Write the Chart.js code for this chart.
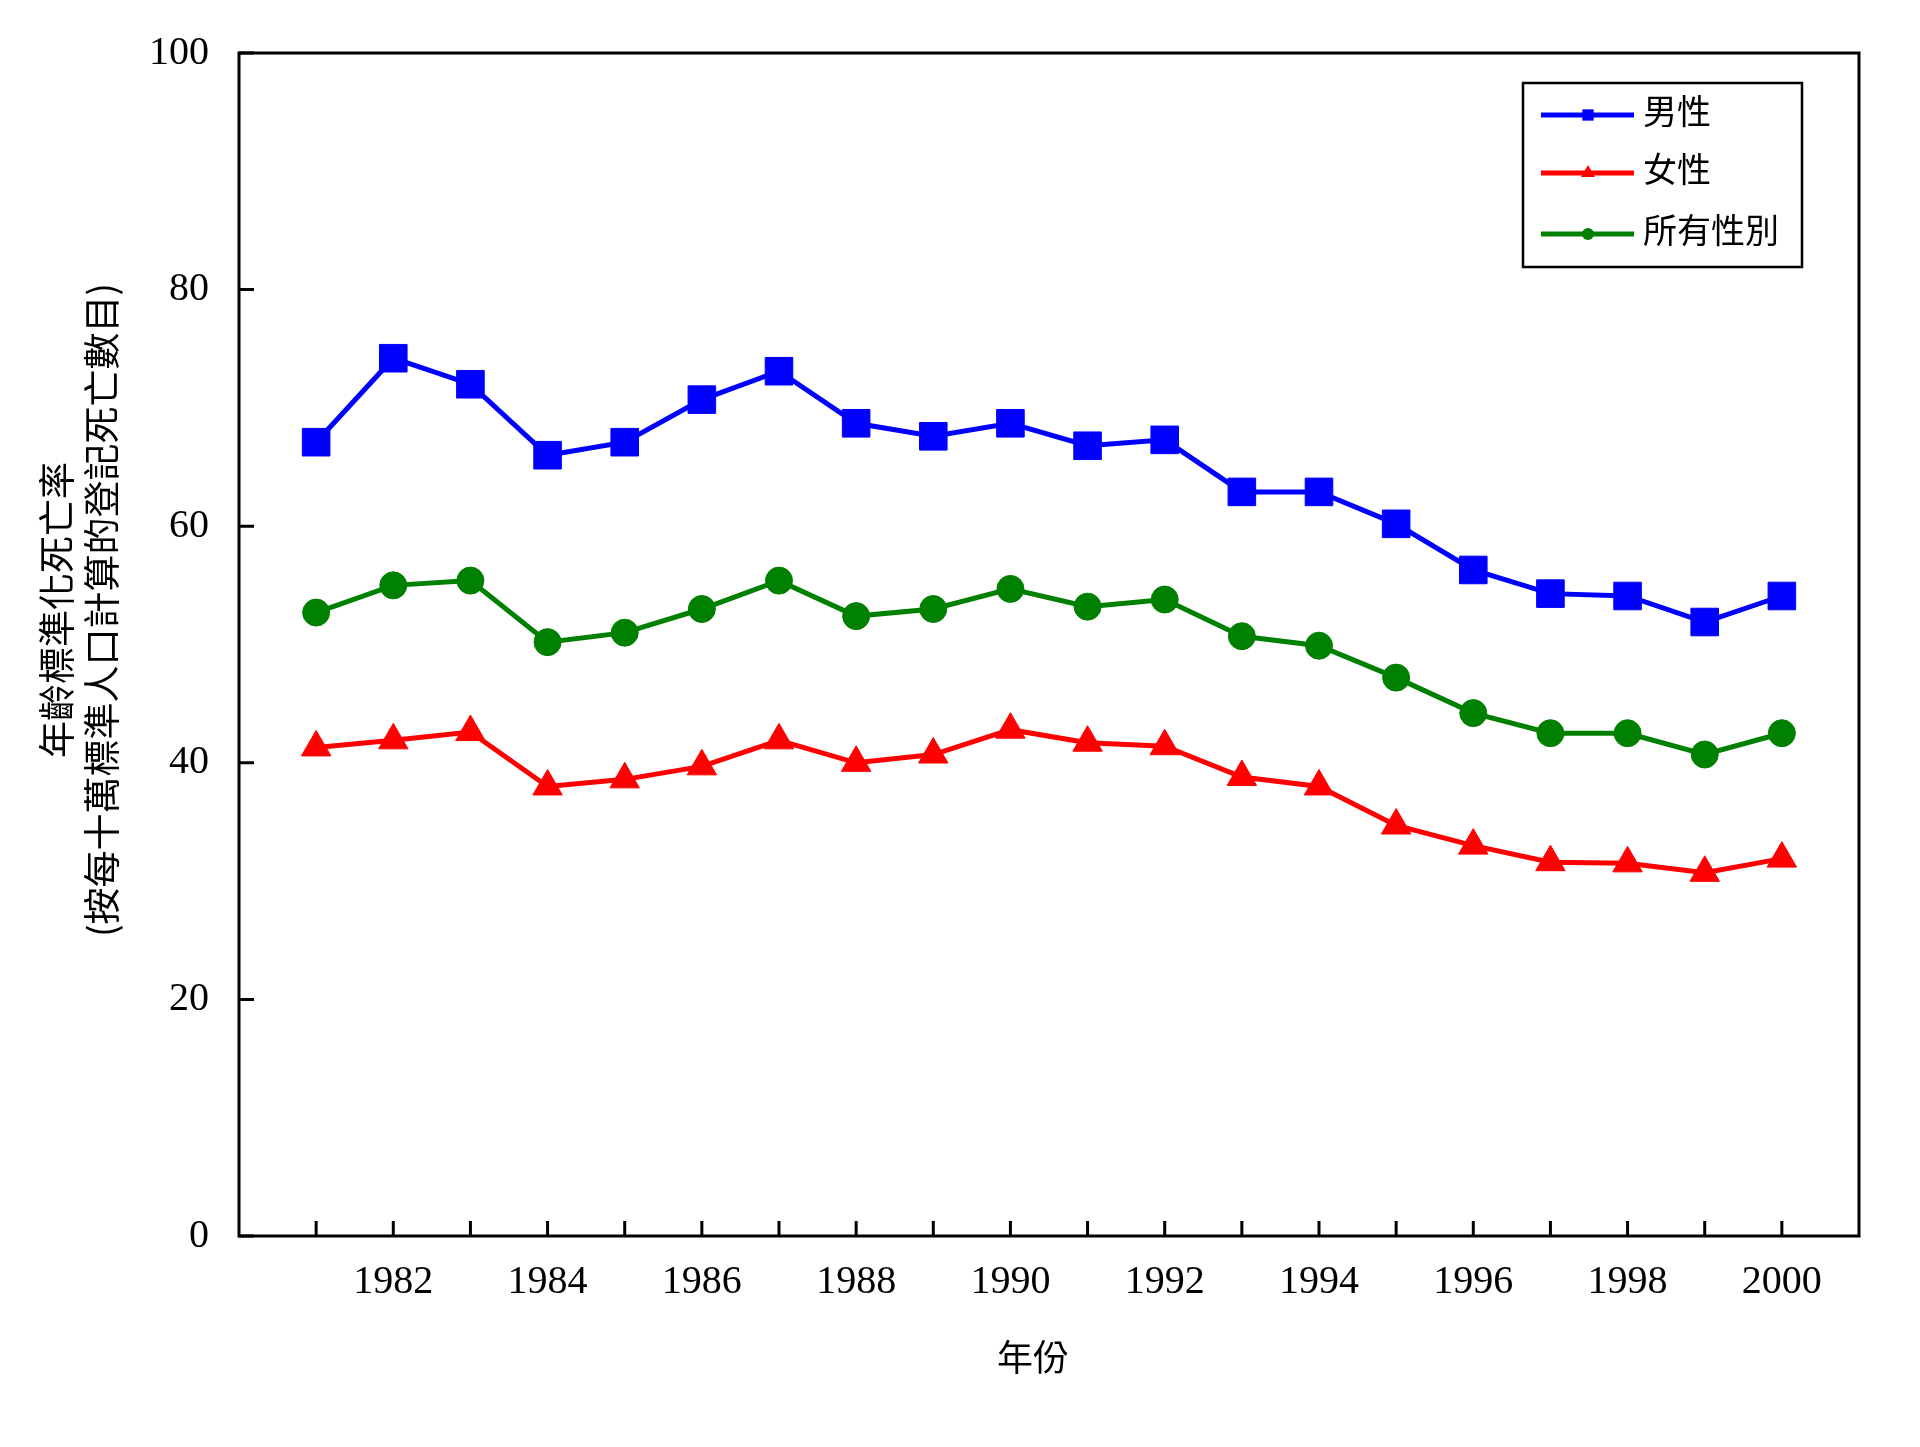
<!DOCTYPE html>
<html>
<head>
<meta charset="utf-8">
<script src="https://cdn.jsdelivr.net/npm/chart.js@4.4.1/dist/chart.umd.min.js"></script>
<style>
  html, body { margin: 0; padding: 0; background: #fff; }
  #wrap { width: 1920px; height: 1447px; position: relative; }
</style>
</head>
<body>
<div id="wrap"><canvas id="chart"></canvas></div>
<script>
// data
const years = [1981, 1982, 1983, 1984, 1985, 1986, 1987, 1988, 1989, 1990,
               1991, 1992, 1993, 1994, 1995, 1996, 1997, 1998, 1999, 2000];
const male = [67.1, 74.2, 72.0, 66.0, 67.1, 70.7, 73.1, 68.7, 67.6, 68.7,
              66.8, 67.3, 62.9, 62.9, 60.2, 56.3, 54.3, 54.1, 51.9, 54.1];
const female = [41.3, 41.9, 42.6, 38.0, 38.6, 39.7, 41.9, 40.0, 40.7, 42.8,
                41.7, 41.4, 38.8, 38.0, 34.7, 33.0, 31.6, 31.5, 30.7, 31.9];
const allSexes = [52.7, 55.0, 55.4, 50.2, 51.0, 53.0, 55.4, 52.4, 53.0, 54.7,
                  53.2, 53.8, 50.7, 49.9, 47.2, 44.2, 42.5, 42.5, 40.7, 42.5];
const seriesNames = ['男性', '女性', '所有性別'];
const yTicks = [0, 20, 40, 60, 80, 100];
const xTitle = '年份';
const yTitle = ['年齡標準化死亡率', '(按每十萬標準人口計算的登記死亡數目)'];

const toPoints = arr => years.map((yr, i) => ({ x: yr, y: arr[i] }));

const serif = 'Liberation Serif, Times New Roman, serif';
const cjk = '"Noto Sans CJK TC", "Noto Sans CJK SC", sans-serif';

// frame, inward tick marks, axis titles and the boxed legend
const decorations = {
    id: 'decorations',
    beforeDatasetsDraw(chart) {
        const { ctx, chartArea: a, scales } = chart;
        ctx.save();
        ctx.strokeStyle = '#000';
        ctx.lineWidth = 3;
        ctx.strokeRect(a.left, a.top, a.right - a.left, a.bottom - a.top);
        ctx.beginPath();
        yTicks.forEach(v => {
            const py = scales.y.getPixelForValue(v);
            ctx.moveTo(a.left, py);
            ctx.lineTo(a.left + 15, py);
        });
        years.forEach(yr => {
            const px = scales.x.getPixelForValue(yr);
            ctx.moveTo(px, a.bottom);
            ctx.lineTo(px, a.bottom - 15);
        });
        ctx.stroke();
        ctx.restore();
    },
    afterDraw(chart) {
        const { ctx } = chart;
        ctx.save();
        ctx.fillStyle = '#000';
        ctx.textAlign = 'center';
        ctx.textBaseline = 'middle';

        // x title
        ctx.font = '36px ' + cjk;
        ctx.fillText(xTitle, 1033, 1357);

        // y title, two rotated lines
        ctx.save();
        ctx.translate(80, 610);
        ctx.rotate(-Math.PI / 2);
        ctx.font = '37px ' + cjk;
        ctx.fillText(yTitle[0], 0, -23);
        ctx.fillText(yTitle[1], 0, 22);
        ctx.restore();

        // legend box
        const lx = 1523, ly = 83, lw = 279, lh = 184;
        ctx.fillStyle = '#fff';
        ctx.fillRect(lx, ly, lw, lh);
        ctx.strokeStyle = '#000';
        ctx.lineWidth = 2.5;
        ctx.strokeRect(lx, ly, lw, lh);
        const rows = [115, 173, 234];
        chart.data.datasets.forEach((ds, i) => {
            const cy = rows[i];
            ctx.strokeStyle = ds.borderColor;
            ctx.lineWidth = 5;
            ctx.beginPath();
            ctx.moveTo(1541, cy);
            ctx.lineTo(1634, cy);
            ctx.stroke();
            ctx.fillStyle = ds.borderColor;
            Chart.helpers.drawPoint(ctx, {
                pointStyle: ds.pointStyle,
                radius: ds.pointStyle === 'circle' ? 6 : 8,
                borderWidth: 0,
                rotation: 0
            }, 1588, cy);
            ctx.fillStyle = '#000';
            ctx.textAlign = 'left';
            ctx.font = '34px ' + cjk;
            ctx.fillText(ds.label, 1643, cy - 4);
        });
        ctx.restore();
    }
};

function makeSet(label, arr, color, style, radius) {
    return {
        label: label,
        data: toPoints(arr),
        borderColor: color,
        backgroundColor: color,
        pointBackgroundColor: color,
        pointBorderColor: color,
        pointBorderWidth: 1,
        pointStyle: style,
        pointRadius: radius,
        pointHoverRadius: radius,
        borderWidth: 5,
        tension: 0
    };
}

new Chart(document.getElementById('chart'), {
    type: 'line',
    data: {
        datasets: [
            makeSet(seriesNames[0], male, '#0000ff', 'rect', 19.5),
            makeSet(seriesNames[1], female, '#ff0000', 'triangle', 17),
            makeSet(seriesNames[2], allSexes, '#008000', 'circle', 13.5)
        ]
    },
    options: {
        responsive: true,
        maintainAspectRatio: false,
        animation: false,
        events: [],
        layout: { padding: { left: 0, right: 61, top: 53, bottom: 0 } },
        plugins: {
            legend: { display: false },
            tooltip: { enabled: false }
        },
        scales: {
            x: {
                type: 'linear',
                min: 1980,
                max: 2001,
                afterFit: s => { s.height = 211; },
                grid: { display: false },
                border: { display: false },
                ticks: {
                    stepSize: 1,
                    autoSkip: false,
                    maxRotation: 0,
                    padding: 14,
                    color: '#000',
                    font: { family: serif, size: 40 },
                    callback: v => (v >= 1982 && v <= 2000 && v % 2 === 0) ? String(v) : ''
                }
            },
            y: {
                min: 0,
                max: 100,
                afterFit: s => { s.width = 239; },
                grid: { display: false },
                border: { display: false },
                ticks: {
                    stepSize: 20,
                    padding: 22,
                    color: '#000',
                    font: { family: serif, size: 40 }
                }
            }
        }
    },
    plugins: [decorations]
});
</script>
</body>
</html>
